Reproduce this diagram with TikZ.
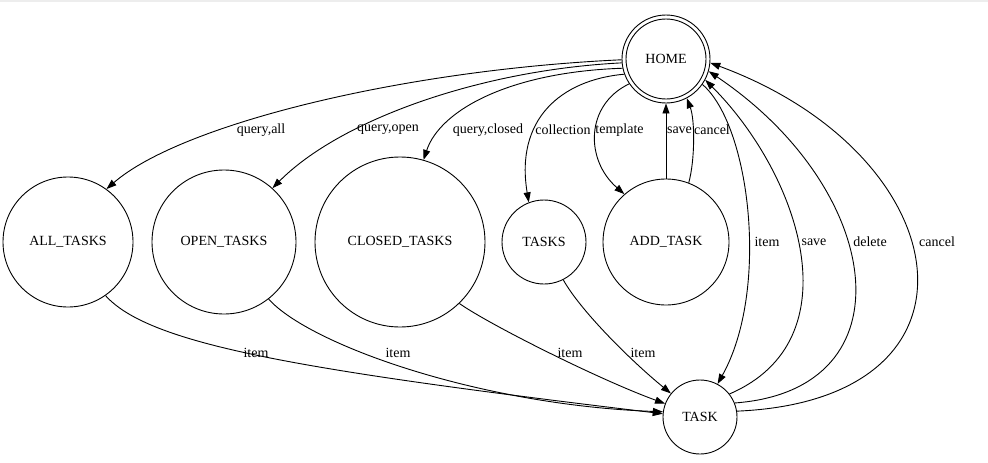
\documentclass[tikz,border=0pt]{standalone}
\usepackage{fontspec}
\setmainfont{Liberation Serif}
\usetikzlibrary{arrows.meta}
\begin{document}
\begin{tikzpicture}[x=1pt,y=-1pt,
  st/.style={circle,draw,line width=0.9pt,inner sep=0pt,font=\fontsize{14}{16}\selectfont},
  lbl/.style={font=\fontsize{14}{16}\selectfont,inner sep=0pt},
  conn/.style={draw,line width=0.9pt,-{Triangle[length=10pt,width=7pt]}}]
\useasboundingbox (0,0) rectangle (988,463);
\fill[white] (0,0) rectangle (988,463);
\fill[black!7] (0,0) rectangle (988,2);

\node[st,minimum size=88pt] (home) at (666,59) {HOME};
\draw[line width=0.9pt] (home.center) circle[radius=40pt];
\node[st,minimum size=130pt] (all) at (68,242) {ALL\_TASKS};
\node[st,minimum size=144pt] (open) at (224,242) {OPEN\_TASKS};
\node[st,minimum size=170pt] (closed) at (400,242) {CLOSED\_TASKS};
\node[st,minimum size=84pt] (tasks) at (544,242) {TASKS};
\node[st,minimum size=126pt] (add) at (666,242) {ADD\_TASK};
\node[st,minimum size=74pt] (task) at (700,417) {TASK};

\draw[conn] (home.181) .. controls (400,70) and (180,125) .. (all.54);
\draw[conn] (home.185) .. controls (480,70) and (340,120) .. (open.48);
\draw[conn] (home.192) .. controls (510,72) and (440,110) .. (closed.74);
\draw[conn] (home.200) .. controls (560,80) and (515,120) .. (tasks.111);
\draw[conn] (home.214) .. controls (585,105) and (585,160) .. (add.131);
\draw[conn] (add.90) -- (home.270);
\draw[conn] (add.69) .. controls (695,160) and (695,120) .. (home.298);
\draw[conn] (home.325) .. controls (750,125) and (770,290) .. (task.62);
\draw[conn] (task.38) .. controls (855,340) and (800,175) .. (home.332);
\draw[conn] (task.22) .. controls (912,390) and (885,190) .. (home.344);
\draw[conn] (task.9) .. controls (1000,400) and (960,155) .. (home.355);
\draw[conn] (all.305) .. controls (150,345) and (300,370) .. (task.175);
\draw[conn] (open.308) .. controls (310,345) and (480,405) .. (task.172);
\draw[conn] (closed.314) .. controls (490,325) and (600,380) .. (task.159);
\draw[conn] (tasks.297) .. controls (580,310) and (630,360) .. (task.141);

\node[lbl] (l1) at (261,130) {query,all};
\node[lbl] (l2) at (388,130) {query,open};
\node[lbl] (l3) at (488,130) {query,closed};
\node[lbl] (l4) at (563,130) {collection};
\node[lbl] (l5) at (619.5,130) {template};
\node[lbl] (l6) at (679.5,130) {save};
\node[lbl] (l7) at (712,130) {cancel};
\node[lbl] (l8) at (767,242) {item};
\node[lbl] (l9) at (814,242) {save};
\node[lbl] (l10) at (870,242) {delete};
\node[lbl] (l11) at (937,242) {cancel};
\node[lbl] (l12) at (256,353) {item};
\node[lbl] (l13) at (398,353) {item};
\node[lbl] (l14) at (570,353) {item};
\node[lbl] (l15) at (643,353) {item};
\end{tikzpicture}
\end{document}
